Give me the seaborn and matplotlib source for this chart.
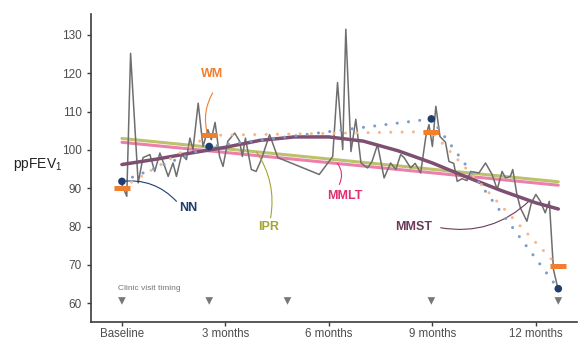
import numpy as np
import pandas as pd
import matplotlib
matplotlib.use('Agg')
import matplotlib.pyplot as plt
import seaborn as sns

# raw daily ppFEV1 (months since baseline)
raw_months = [0.00, 0.14, 0.25, 0.47, 0.61, 0.81, 0.95, 1.10, 1.19, 1.34, 1.48, 1.58,
              1.73, 1.87, 1.97, 2.06, 2.21, 2.35, 2.49, 2.59, 2.70, 2.83, 2.93, 3.07,
              3.27, 3.41, 3.49, 3.58, 3.75, 3.89, 4.04, 4.28, 4.52, 5.72, 6.11, 6.25,
              6.40, 6.49, 6.64, 6.78, 6.93, 7.12, 7.25, 7.41, 7.60, 7.79, 7.94, 8.08,
              8.18, 8.37, 8.50, 8.66, 8.81, 8.90, 9.00, 9.10, 9.22, 9.38, 9.48, 9.62,
              9.72, 9.86, 10.00, 10.11, 10.35, 10.54, 10.73, 10.88, 11.02, 11.12, 11.26,
              11.33, 11.45, 11.55, 11.74, 11.87, 12.00, 12.13, 12.27, 12.39, 12.51, 12.64]
raw_values = [91.0, 87.9, 125.2, 91.4, 98.0, 98.8, 94.4, 99.2, 97.0, 93.1, 96.6, 93.1,
              98.8, 97.5, 103.1, 100.1, 112.2, 100.9, 105.3, 102.7, 107.2, 98.3, 95.7, 102.3,
              104.4, 102.3, 98.3, 103.1, 94.9, 94.4, 97.5, 104.0, 98.0, 93.6, 98.3, 117.6,
              100.1, 131.5, 99.6, 108.0, 96.6, 95.3, 97.0, 101.4, 92.7, 96.6, 94.9, 98.8,
              98.0, 95.3, 96.5, 94.0, 103.5, 106.6, 100.9, 111.4, 103.5, 102.0, 97.0, 96.5,
              91.8, 92.5, 92.0, 94.4, 94.0, 96.6, 93.6, 89.7, 94.4, 92.7, 93.1,
              94.9, 88.4, 84.9, 81.4, 86.2, 88.4, 86.6, 83.6, 86.6, 68.8, 63.8]

# model fits
ipr_months = [0, 12.65]
ipr_values = [103.0, 91.7]
mmlt_months = [0, 12.65]
mmlt_values = [102.0, 90.8]
mmst_months = [0, 1, 2, 3, 4, 5, 6, 7, 8, 9, 10, 11, 12, 12.65]
mmst_values = [96.2, 97.6, 99.2, 100.7, 102.5, 103.4, 103.4, 102.3, 99.8, 96.6, 92.9, 89.4, 86.2, 84.6]

# clinic visits
visit_months = [0, 2.53, 4.8, 8.97, 12.65]
nn_months = [0, 2.53, 8.97, 12.65]
nn_values = [91.8, 100.9, 108.1, 63.8]
wm_months = [0, 2.53, 8.97, 12.65]
wm_values = [90.1, 103.8, 104.8, 69.6]

x_ticks = [0, 3, 6, 9, 12]
x_labels = ['Baseline', '3 months', '6 months', '9 months', '12 months']

sns.set_style('ticks')
plt.rcParams['font.family'] = ['Liberation Sans', 'DejaVu Sans']
plt.rcParams['mathtext.default'] = 'regular'

c_grey = '#6e6e6e'
c_ipr, c_ipr_txt = '#bcc26b', '#a3a532'
c_mmlt, c_mmlt_txt = '#ec80aa', '#e0306f'
c_mmst, c_mmst_txt = '#7d4f70', '#6b3a5a'
c_nn, c_nn_dot = '#1d3e6e', '#7d9bc8'
c_wm, c_wm_dot = '#f07f2e', '#f7b58a'

fig, ax = plt.subplots(figsize=(5.79, 3.39), dpi=100)
fig.subplots_adjust(left=0.157, right=0.997, bottom=0.05, top=0.959)

sns.lineplot(x=ipr_months, y=ipr_values, color=c_ipr, lw=2.2, ax=ax, zorder=2)
sns.lineplot(x=mmlt_months, y=mmlt_values, color=c_mmlt, lw=2.2, ax=ax, zorder=2)
sns.lineplot(x=raw_months, y=raw_values, color=c_grey, lw=1.1, ax=ax, zorder=3)
sns.lineplot(x=mmst_months, y=mmst_values, color=c_mmst, lw=2.5, ax=ax, zorder=4)

dot_style = (0, (0.01, 3.7))
sns.lineplot(x=wm_months, y=wm_values, color=c_wm_dot, lw=2.2, linestyle=dot_style,
             dash_capstyle='round', ax=ax, zorder=5)
sns.lineplot(x=nn_months, y=nn_values, color=c_nn_dot, lw=2.2, linestyle=dot_style,
             dash_capstyle='round', ax=ax, zorder=5)

half = 0.23
ax.hlines(wm_values, np.array(wm_months) - half, np.array(wm_months) + half,
          color=c_wm, lw=3.6, zorder=6)
sns.scatterplot(x=nn_months, y=nn_values, color=c_nn, s=30, edgecolor='none', ax=ax, zorder=7)

# clinic visit markers
sns.scatterplot(x=visit_months, y=[60.6] * len(visit_months), marker='v', color='#777777',
                s=30, edgecolor='none', ax=ax, zorder=7)
ax.text(-0.12, 63.9, 'Clinic visit timing', fontsize=6, color='#777777', va='center', ha='left')

# labels with connectors
def label(txt, pos, start, end, col, rad):
    ax.text(pos[0], pos[1], txt, color=col, fontsize=9, fontweight='bold', ha='center', va='center')
    ax.annotate('', xy=end, xytext=start,
                arrowprops=dict(arrowstyle='-', color=col, lw=0.8,
                                connectionstyle=f'arc3,rad={rad}', shrinkA=0, shrinkB=0))

label('WM', (2.62, 119.9), (2.63, 114.9), (2.47, 104.5), c_wm, 0.2)
label('NN', (1.91, 84.9), (0.0, 91.8), (1.58, 86.6), c_nn, -0.25)
label('IPR', (4.26, 79.9), (3.9, 99.5), (4.31, 82.3), c_ipr_txt, -0.2)
label('MMLT', (6.45, 88.0), (6.25, 96.5), (6.3, 91.0), c_mmlt_txt, -0.3)
label('MMST', (8.45, 79.8), (9.24, 79.7), (11.82, 86.8), c_mmst_txt, 0.25)

ax.set_xlim(-0.9, 13.2)
ax.set_ylim(55.1, 135.5)
ax.set_xticks(x_ticks)
ax.set_xticklabels(x_labels)
ax.set_yticks(range(60, 131, 10))
ax.tick_params(labelsize=8.5, colors='#3c3c3c', length=3, width=1, labelcolor='#4d4d4d')
ax.tick_params(axis='x', pad=1.2, labelsize=8.3)
ax.set_xlabel('')
ax.set_ylabel('ppFEV$_1$', rotation=0, fontsize=10, color='#222222', ha='center', va='center')
ax.yaxis.set_label_coords(-0.11, 0.51)
for side in ['left', 'bottom']:
    ax.spines[side].set_color('#3c3c3c')
    ax.spines[side].set_linewidth(1.2)
sns.despine(ax=ax)

plt.savefig('out.png', dpi=100)
plt.close()
